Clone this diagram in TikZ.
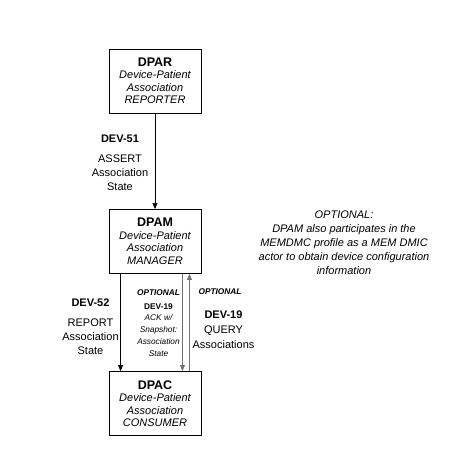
\documentclass[tikz,border=0pt]{standalone}
\usepackage{fontspec}
\setmainfont{Liberation Sans}
\usetikzlibrary{arrows.meta,positioning}

\begin{document}
\begin{tikzpicture}[x=1pt, y=-1pt,
  actor/.style={draw=black, line width=0.9pt, fill=white, align=center,
                minimum width=92pt, minimum height=64pt, inner sep=2pt,
                font=\fontsize{11}{12.5}\selectfont},
  lbl/.style={align=center, inner sep=0pt, font=\fontsize{11}{14}\selectfont},
  small/.style={align=center, inner sep=0pt, font=\fontsize{8.3}{11.8}\selectfont},
  arr/.style={-{Triangle[length=6pt,width=5pt]}, black, line width=0.6pt},
  optarr/.style={-{Triangle[length=6pt,width=5pt]}, black!55, line width=0.8pt}]
\useasboundingbox (0,0) rectangle (465,457);
% actors
\node[actor] (dpar) at (155,81)    {{\fontsize{12.5}{13.5}\selectfont\bfseries DPAR}\\\itshape Device-Patient\\\itshape Association\\\itshape REPORTER};
\node[actor] (dpam) at (155,241.5) {{\fontsize{12.5}{13.5}\selectfont\bfseries DPAM}\\\itshape Device-Patient\\\itshape Association\\\itshape MANAGER};
\node[actor] (dpac) at (155,403.5) {{\fontsize{12.5}{13.5}\selectfont\bfseries DPAC}\\\itshape Device-Patient\\\itshape Association\\\itshape CONSUMER};
% transactions
\draw[arr] (dpar.south) -- (dpam.north);
\draw[arr] ([xshift=12pt]dpam.south west) -- ([xshift=12pt]dpac.north west);
\draw[optarr] ([xshift=-19pt]dpam.south east) -- ([xshift=-19pt]dpac.north east);
\draw[optarr] ([xshift=-12pt]dpac.north east) -- ([xshift=-12pt]dpam.south east);
% labels
\node[lbl] (dev51) at (120,163) {\textbf{DEV-51}\\[6pt]ASSERT\\Association\\State};
\node[lbl] (dev52) at (90.5,327) {\textbf{DEV-52}\\[6pt]REPORT\\Association\\State};
\node[small] (ack) at (158.5,323) {\textbf{\itshape OPTIONAL}\\[2pt]\textbf{DEV-19}\\\itshape ACK w/\\\itshape Snapshot:\\\itshape Association\\\itshape State};
\node[small] (optq) at (220,292) {\textbf{\itshape OPTIONAL}};
\node[lbl, font=\fontsize{11}{15}\selectfont] (dev19) at (223.5,330) {\textbf{DEV-19}\\QUERY\\Associations};
\node[lbl, font=\fontsize{11}{14}\selectfont\itshape] (note) at (344,243)
  {OPTIONAL:\\DPAM also participates in the\\MEMDMC profile as a MEM DMIC\\actor to obtain device configuration\\information};
\end{tikzpicture}
\end{document}
